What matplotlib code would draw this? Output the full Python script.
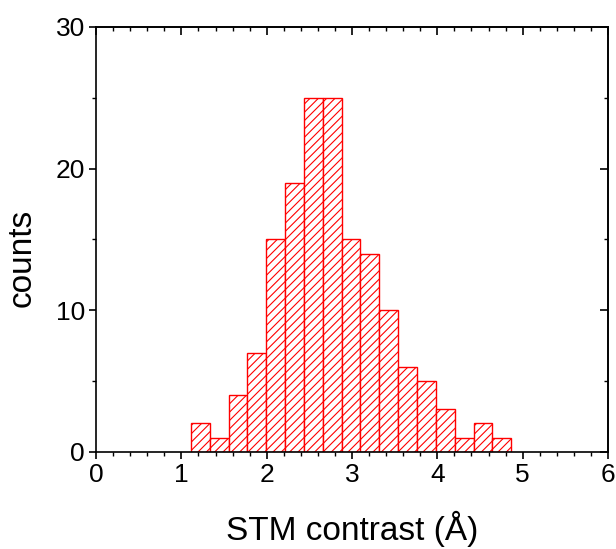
import numpy as np
import matplotlib
matplotlib.use("Agg")
import matplotlib.pyplot as plt

# histogram of STM contrast
bin_start = 1.11
bin_width = 0.221
counts = [2, 1, 4, 7, 15, 19, 25, 25, 15, 14, 10, 6, 5, 3, 1, 2, 1]
edges = bin_start + bin_width * np.arange(len(counts) + 1)

plt.rcParams['font.family'] = ['Liberation Sans', 'DejaVu Sans']
plt.rcParams['hatch.linewidth'] = 0.8
plt.rcParams['hatch.color'] = 'red'

fig = plt.figure(figsize=(6.16, 5.49), dpi=100)
ax = fig.add_axes([0.156, 0.177, 0.831, 0.774])

ax.bar(edges[:-1], counts, width=bin_width, align='edge',
       facecolor='white', edgecolor='red', linewidth=1.0, hatch='////')

ax.set_xlim(0, 6)
ax.set_ylim(0, 30)
ax.set_xticks(range(0, 7))
ax.set_yticks([0, 10, 20, 30])
ax.set_xticks(np.arange(0, 6.01, 0.2), minor=True)
ax.set_yticks(np.arange(0, 30.1, 5), minor=True)
ax.tick_params(which='major', direction='out', length=5, width=1.2,
               labelsize=19, pad=3)
ax.tick_params(which='minor', direction='out', length=3, width=1.0)
ax.tick_params(axis='y', which='major', pad=3)

# mirrored ticks pointing inward on top and right
top = ax.secondary_xaxis('top')
top.set_xticks(range(0, 7))
top.set_xticks(np.arange(0, 6.01, 0.2), minor=True)
top.tick_params(which='major', direction='in', length=6, width=1.2, labeltop=False)
top.tick_params(which='minor', direction='in', length=3, width=1.0)
right = ax.secondary_yaxis('right')
right.set_yticks([0, 10, 20, 30])
right.set_yticks(np.arange(0, 30.1, 5), minor=True)
right.tick_params(which='major', direction='in', length=6, width=1.2, labelright=False)
right.tick_params(which='minor', direction='in', length=3, width=1.0)

for s in ax.spines.values():
    s.set_linewidth(1.2)
top.spines['top'].set_linewidth(1.2)
right.spines['right'].set_linewidth(1.2)

ax.set_xlabel('STM contrast (Å)', fontsize=24, labelpad=17)
ax.set_ylabel('counts', fontsize=24, labelpad=10)
ax.yaxis.set_label_coords(-0.115, 0.456)

fig.savefig('out.png', dpi=100)
